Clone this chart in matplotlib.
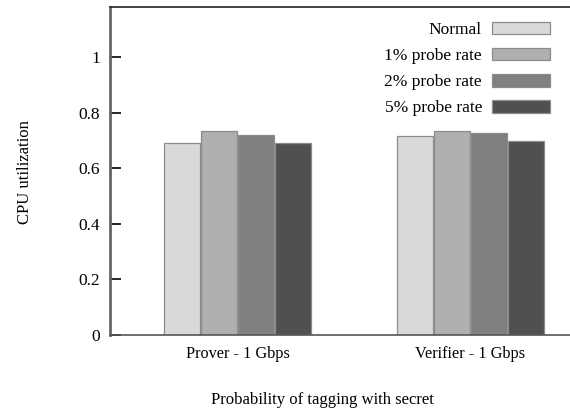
import matplotlib
matplotlib.use("Agg")
import matplotlib.pyplot as plt
import numpy as np

plt.rcParams["font.family"] = ["Liberation Serif", "DejaVu Serif"]

groups = ["Prover - 1 Gbps", "Verifier - 1 Gbps"]
series = ["Normal", "1% probe rate", "2% probe rate", "5% probe rate"]
values = [
    [0.691, 0.716],   # Normal
    [0.735, 0.732],   # 1%
    [0.718, 0.726],   # 2%
    [0.692, 0.697],   # 5%
]
colors = ["#d9d9d9", "#afafaf", "#808080", "#505050"]

fig = plt.figure(figsize=(5.70, 4.09), dpi=100)
ax = fig.add_axes([0.193, 0.181, 0.807, 0.802])

x = np.arange(len(groups))
w = 0.159
for i, (name, vals, c) in enumerate(zip(series, values, colors)):
    ax.bar(x + (i - 1.5) * w, vals, width=w * 0.96, color=c,
           edgecolor="#8c8c8c", linewidth=0.9, label=name)

ax.set_xlim(-0.547, 1.427)
ax.set_ylim(0, 1.18)
ax.set_yticks([0, 0.2, 0.4, 0.6, 0.8, 1])
ax.set_yticklabels(["0", "0.2", "0.4", "0.6", "0.8", "1"])
ax.set_xticks(x)
ax.set_xticklabels(groups)
ax.tick_params(axis="y", direction="in", length=8, width=1.2, labelsize=12.5, pad=7)
ax.tick_params(axis="x", length=0, labelsize=11.7, pad=8)

ax.spines["left"].set_color("#666666")
ax.spines["left"].set_linewidth(2)
ax.spines["bottom"].set_color("#555555")
ax.spines["bottom"].set_linewidth(1.2)
ax.spines["top"].set_color("#333333")
ax.spines["top"].set_linewidth(1.3)
ax.spines["right"].set_visible(False)

# axis titles placed in figure coords
fig.text(25 / 570, 1 - 172 / 409, "CPU utilization", fontsize=12,
         rotation=90, ha="center", va="center")
fig.text(322 / 570, 1 - 400 / 409, "Probability of tagging with secret",
         fontsize=12, ha="center", va="center")

ax.legend(loc="upper right", bbox_to_anchor=(0.99, 1.003), frameon=False,
          markerfirst=False, fontsize=12.5, handlelength=3.3, handleheight=0.75,
          labelspacing=0.56, handletextpad=0.6)

fig.savefig("out.png", dpi=100)
